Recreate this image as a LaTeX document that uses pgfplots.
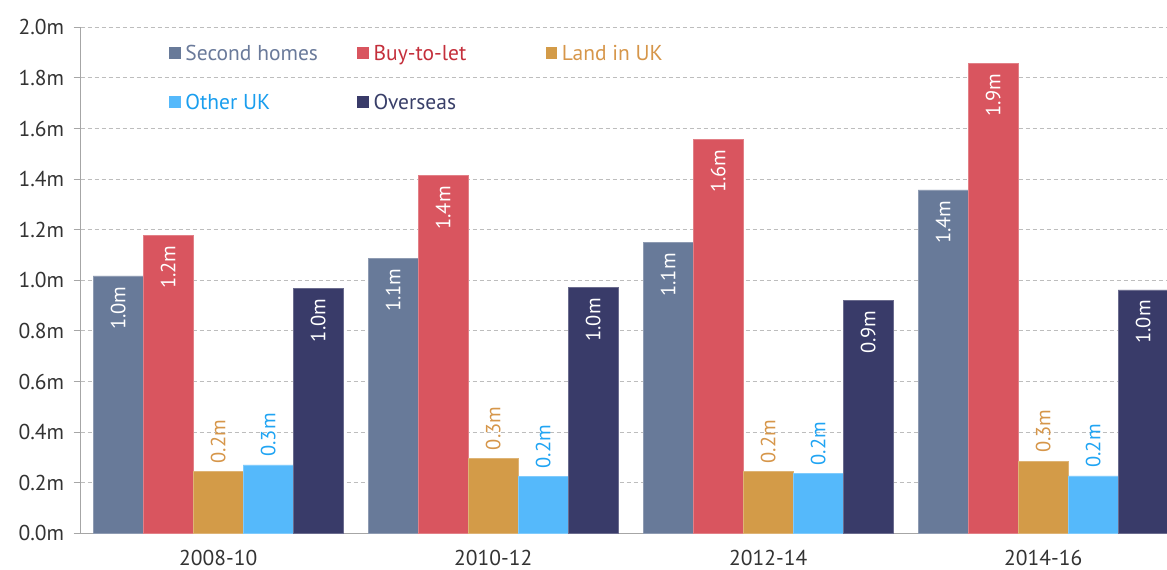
\documentclass[border=0pt]{standalone}
\usepackage{pgfplots}
\pgfplotsset{compat=1.18}
\usepackage{fontspec}
\setmainfont{PT Sans}
\definecolor{cSH}{HTML}{687A99}
\definecolor{cBTL}{HTML}{D9555F}
\definecolor{cLand}{HTML}{D39B48}
\definecolor{cOther}{HTML}{55B9FB}
\definecolor{cOver}{HTML}{393B69}
\definecolor{tSH}{HTML}{6A7A9A}
\definecolor{tBTL}{HTML}{C42F3B}
\definecolor{tLand}{HTML}{D6964A}
\definecolor{tOther}{HTML}{1A9EEE}
\definecolor{tOver}{HTML}{393F69}
\definecolor{lOther}{HTML}{20A4F3}
\definecolor{axgray}{HTML}{A6A6A6}
\definecolor{gridgray}{HTML}{BDBDBD}
\definecolor{ticktext}{HTML}{333333}
\begin{document}
\begin{tikzpicture}
\useasboundingbox (0,0) rectangle (1167pt,570pt);
\begin{axis}[
  at={(80.7pt,36.7pt)}, anchor=south west,
  scale only axis, width=1086.3pt, height=506pt,
  xmin=-0.5, xmax=3.45, ymin=0, ymax=2,
  ybar=0pt, bar width=50pt,
  axis x line*=bottom, axis y line*=left,
  axis line style={-, draw=axgray, line width=1.3pt},
  xtick={0,1,2,3}, xticklabels={2008-10,2010-12,2012-14,2014-16},
  x tick style={draw=none},
  ytick={0,0.2,0.4,0.6,0.8,1.0,1.2,1.4,1.6,1.8,2.0},
  yticklabels={0.0m,0.2m,0.4m,0.6m,0.8m,1.0m,1.2m,1.4m,1.6m,1.8m,2.0m},
  y tick style={draw=axgray, line width=1.1pt},
  tick align=outside, major tick length=7pt,
  ymajorgrids, major grid style={draw=gridgray, line width=1pt, dash pattern=on 4pt off 3pt},
  tick label style={font=\fontsize{21.5}{24}\selectfont, text=ticktext},
  xticklabel style={yshift=-6pt},
  yticklabel style={xshift=-6pt},
  legend columns=3,
  legend style={at={(0.0785,0.969)}, anchor=north west, draw=none, fill=none,
    column sep=0pt, row sep=30pt, font=\fontsize{21.5}{24}\selectfont,
    nodes={inner sep=0pt, text height=15pt, text depth=4pt, anchor=base west}},
  myleg/.style={legend image code/.code={\fill[##1, draw=none] (0pt,1pt) rectangle (11.7pt,12.7pt);}},
  inlab/.style={nodes near coords, point meta=explicit symbolic,
    every node near coord/.append style={font=\fontsize{20.5}{24}\selectfont, text=white, inner sep=0pt, yshift=-10pt, rotate=90, anchor=east}},
  uplab/.style={nodes near coords, point meta=explicit symbolic,
    every node near coord/.append style={font=\fontsize{20.5}{24}\selectfont, text=#1, inner sep=0pt, yshift=8pt, rotate=90, anchor=west}},
]
\addplot[fill=cSH, draw=cSH!75!white, line width=0.8pt, inlab, myleg]
  coordinates {(0,1.017)[1.0m] (1,1.088)[1.1m] (2,1.148)[1.1m] (3,1.357)[1.4m]};
\addlegendentry{\hspace*{4.5pt}\makebox[172.1pt][l]{\textcolor{tSH}{Second homes}}}
\addplot[fill=cBTL, draw=cBTL!75!white, line width=0.8pt, inlab, myleg]
  coordinates {(0,1.179)[1.2m] (1,1.413)[1.4m] (2,1.558)[1.6m] (3,1.858)[1.9m]};
\addlegendentry{\hspace*{4.5pt}\makebox[172.1pt][l]{\textcolor{tBTL}{Buy-to-let}}}
\addplot[fill=cLand, draw=cLand!75!white, line width=0.8pt, uplab=tLand, myleg]
  coordinates {(0,0.2435)[0.2m] (1,0.296)[0.3m] (2,0.2435)[0.2m] (3,0.2846)[0.3m]};
\addlegendentry{\hspace*{4.5pt}\makebox[172.1pt][l]{\textcolor{tLand}{Land in UK}}}
\addplot[fill=cOther, draw=cOther!75!white, line width=0.8pt, uplab=lOther, myleg]
  coordinates {(0,0.270)[0.3m] (1,0.224)[0.2m] (2,0.2356)[0.2m] (3,0.2265)[0.2m]};
\addlegendentry{\hspace*{4.5pt}\makebox[172.1pt][l]{\textcolor{tOther}{Other UK}}}
\addplot[fill=cOver, draw=cOver!75!white, line width=0.8pt, inlab, myleg]
  coordinates {(0,0.968)[1.0m] (1,0.970)[1.0m] (2,0.922)[0.9m] (3,0.962)[1.0m]};
\addlegendentry{\hspace*{4.5pt}\makebox[172.1pt][l]{\textcolor{tOver}{Overseas}}}
\end{axis}
\end{tikzpicture}
\end{document}
